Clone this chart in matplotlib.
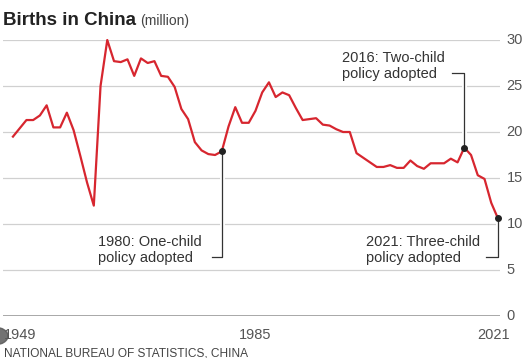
import numpy as np
import matplotlib.pyplot as plt
import matplotlib.patheffects as pe
from matplotlib.patches import Circle

plt.rcParams['font.family'] = ['Liberation Sans', 'DejaVu Sans']

years = list(range(1949, 2022))
births = [19.5, 20.4, 21.3, 21.3, 21.8, 22.9, 20.5, 20.5, 22.1, 20.2,
          17.4, 14.5, 12.0, 25.0, 30.0, 27.7, 27.6, 27.9, 26.1, 28.0,
          27.5, 27.7, 26.1, 26.0, 24.9, 22.5, 21.4, 18.9, 18.0, 17.6,
          17.5, 17.9, 20.6, 22.7, 21.0, 21.0, 22.3, 24.3, 25.4, 23.8,
          24.3, 24.0, 22.6, 21.3, 21.4, 21.5, 20.8, 20.7, 20.3, 20.0,
          20.0, 17.7, 17.2, 16.7, 16.2, 16.2, 16.4, 16.1, 16.1, 16.9,
          16.3, 16.0, 16.6, 16.6, 16.6, 17.1, 16.7, 18.3, 17.5, 15.3,
          14.9, 12.3, 10.6]

yticks = [0, 5, 10, 15, 20, 25, 30]
xticks = [1949, 1985, 2021]

events = [1980, 2016, 2021]
event_text = ["1980: One-child\npolicy adopted",
              "2016: Two-child\npolicy adopted",
              "2021: Three-child\npolicy adopted"]

W, H = 530, 358
fig = plt.figure(figsize=(W / 100, H / 100), dpi=100)
ax = fig.add_axes([3 / W, (H - 316) / H, 497 / W, 276 / H])

red = '#d7262f'
grey_txt = '#555555'

for v in yticks[1:]:
    ax.axhline(v, color='#d0d0d0', lw=0.9, zorder=1)
ax.axhline(0, color='#a8a8a8', lw=1.4, zorder=1)

ax.plot(years, births, color=red, lw=1.6, zorder=3, clip_on=False,
        solid_joinstyle='round')

ax.set_xlim(1947.52, 2021.3)
ax.set_ylim(0, 30)

for s in ax.spines.values():
    s.set_visible(False)
ax.set_xticks([])
ax.set_yticks([])

# y labels on the right
for v in yticks:
    ax.text(1.013, v, str(v), transform=ax.get_yaxis_transform(),
            ha='left', va='center', fontsize=10.5, color=grey_txt)

# x labels
xlab_x = [1949 - 1.3, 1985, 2020.3]
xlab_ha = ['left', 'center', 'center']
for t, px, ha in zip(xticks, xlab_x, xlab_ha):
    ax.text(px, -1.3, str(t), ha=ha, va='top', fontsize=10.5,
            color=grey_txt, clip_on=False)

# annotations
conn = dict(color='#333333', lw=0.9, zorder=4, clip_on=False,
            path_effects=[pe.Stroke(linewidth=3.5, foreground='white'),
                          pe.Normal()])
ann_y = [6.4, 26.4, 6.4]
ann_dx = [-1.5, -1.8, -1.8]
txt_x = [1961.6, 1997.8, 2001.4]
for yr, label, ly, dx, tx in zip(events, event_text, ann_y, ann_dx, txt_x):
    val = births[years.index(yr)]
    ax.plot([yr, yr, yr + dx], [val, ly, ly], **conn)
    ax.plot(yr, val, 'o', color='#222222', ms=4, zorder=5, clip_on=False)
    ax.text(tx, ly - 0.9, label, ha='left', va='bottom', fontsize=10.5,
            color='#333333', linespacing=1.2, zorder=6)

# title
fig.text(3 / W, 1 - 25 / H, 'Births in China', fontsize=13.5,
         fontweight='bold', color='#222222', ha='left', va='baseline')
fig.text(140 / W, 1 - 25 / H, '(million)', fontsize=10,
         color='#444444', ha='left', va='baseline')

# source
fig.text(4 / W, 1 - 356 / H, 'NATIONAL BUREAU OF STATISTICS, CHINA',
         fontsize=8.6, color='#444444', ha='left', va='baseline')

# screenshot artifact at the bottom left
fig.patches.append(Circle((-5 / W, 1 - 336 / H), 13 / W, transform=fig.transFigure,
                          color='#5a5a5a', alpha=0.85, zorder=10))

fig.savefig('out.png', dpi=100, facecolor='white')
